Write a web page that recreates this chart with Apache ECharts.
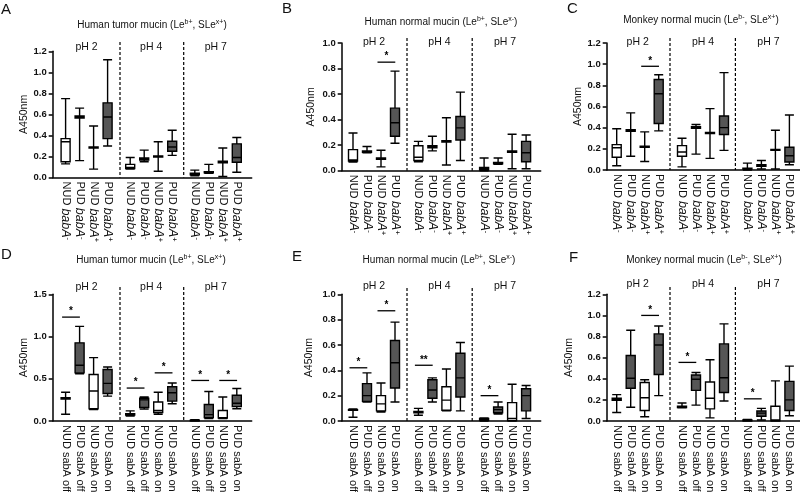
<!DOCTYPE html>
<html><head><meta charset="utf-8">
<script src="https://cdn.jsdelivr.net/npm/echarts@6/dist/echarts.min.js"></script>
<style>html,body{margin:0;padding:0;background:#fff}#c{width:800px;height:493px}</style>
</head><body><div id="c"></div>
<script>
// ---------- categories & labels ----------
const catsBab = ['NUD babA-', 'PUD babA-', 'NUD babA+', 'PUD babA+'];
const catsSab = ['NUD sabA off', 'PUD sabA off', 'NUD sabA on', 'PUD sabA on'];
const phLabels = ['pH 2', 'pH 4', 'pH 7'];
const yLabelName = 'A450nm';

// ---------- box data: [min, Q1, median, Q3, max] ----------
const A_pH2 = [[0.13,0.15,0.34,0.37,0.75],[0.16,0.565,0.575,0.585,0.66],[0.08,0.28,0.285,0.29,0.49],[0.30,0.37,0.575,0.71,1.12]];
const A_pH4 = [[0.08,0.085,0.095,0.125,0.19],[0.15,0.165,0.175,0.185,0.26],[0.06,0.195,0.2,0.205,0.34],[0.21,0.25,0.29,0.345,0.45]];
const A_pH7 = [[0.015,0.025,0.035,0.04,0.07],[0.04,0.045,0.05,0.055,0.125],[0.01,0.14,0.15,0.155,0.28],[0.05,0.145,0.19,0.32,0.38]];

const B_pH2 = [[0.068,0.075,0.085,0.165,0.295],[0.14,0.145,0.15,0.155,0.19],[0.03,0.09,0.095,0.10,0.16],[0.215,0.27,0.375,0.49,0.78]];
const B_pH4 = [[0.07,0.08,0.105,0.195,0.23],[0.155,0.18,0.19,0.195,0.27],[0.045,0.225,0.23,0.235,0.415],[0.08,0.24,0.335,0.425,0.615]];
const B_pH7 = [[0,0.005,0.015,0.025,0.10],[0.05,0.055,0.06,0.065,0.10],[0.015,0.145,0.15,0.155,0.285],[0.015,0.07,0.14,0.23,0.28]];

const C_pH2 = [[0.04,0.12,0.21,0.24,0.39],[0.13,0.365,0.375,0.38,0.54],[0.08,0.215,0.22,0.225,0.36],[0.37,0.44,0.72,0.855,0.90]];
const C_pH4 = [[0.03,0.13,0.17,0.23,0.30],[0.15,0.395,0.40,0.41,0.43],[0.11,0.345,0.35,0.355,0.58],[0.185,0.335,0.40,0.51,0.92]];
const C_pH7 = [[0,0.008,0.012,0.018,0.065],[0.01,0.035,0.045,0.05,0.09],[0.01,0.185,0.19,0.195,0.375],[0.05,0.075,0.135,0.215,0.52]];

const D_pH2 = [[0.08,0.26,0.265,0.275,0.34],[0.56,0.57,0.66,0.925,1.12],[0.135,0.145,0.355,0.55,0.75],[0.295,0.325,0.445,0.61,0.64]];
const D_pH4 = [[0.06,0.07,0.075,0.085,0.12],[0.14,0.16,0.25,0.27,0.285],[0.08,0.10,0.125,0.225,0.34],[0.205,0.235,0.335,0.405,0.45]];
const D_pH7 = [[0,0.003,0.006,0.01,0.015],[0.03,0.04,0.075,0.195,0.35],[0.03,0.035,0.04,0.125,0.285],[0.145,0.17,0.21,0.305,0.385]];

const E_pH2 = [[0.03,0.085,0.088,0.09,0.095],[0.15,0.155,0.20,0.295,0.38],[0.07,0.08,0.135,0.20,0.30],[0.15,0.26,0.46,0.635,0.78]];
const E_pH4 = [[0.045,0.065,0.07,0.075,0.10],[0.15,0.18,0.245,0.325,0.34],[0.08,0.085,0.165,0.27,0.41],[0.08,0.19,0.34,0.535,0.62]];
const E_pH7 = [[0,0.005,0.015,0.02,0.025],[0.055,0.065,0.09,0.11,0.15],[0,0.003,0.02,0.145,0.29],[0.02,0.08,0.20,0.255,0.28]];

const F_pH2 = [[0.08,0.195,0.205,0.215,0.25],[0.13,0.31,0.405,0.62,0.86],[0.04,0.10,0.22,0.365,0.39],[0.24,0.44,0.72,0.825,0.90]];
const F_pH4 = [[0.125,0.128,0.133,0.14,0.17],[0.15,0.29,0.395,0.435,0.46],[0.03,0.115,0.215,0.37,0.58],[0.19,0.27,0.41,0.73,0.92]];
const F_pH7 = [[0,0.003,0.006,0.01,0.015],[0.01,0.045,0.075,0.095,0.12],[0,0.003,0.01,0.14,0.38],[0.05,0.10,0.20,0.375,0.52]];

// ---------- significance: [group, fromCat, toCat, y, label] ----------
const sigA = [];
const sigB = [[0,2,3,0.85,'*']];
const sigC = [[0,2,3,0.98,'*']];
const sigD = [[0,0,1,1.23,'*'],[1,0,1,0.39,'*'],[1,2,3,0.57,'*'],[2,0,1,0.48,'*'],[2,2,3,0.48,'*']];
const sigE = [[0,0,1,0.42,'*'],[0,2,3,0.87,'*'],[1,0,1,0.44,'**'],[2,0,1,0.20,'*']];
const sigF = [[0,2,3,1.00,'*'],[1,0,1,0.555,'*'],[2,0,1,0.21,'*']];

// ---------- titles ----------
const titleTumor  = '{t|Human tumor mucin (Le}{s|b+}{t|, SLe}{s|x+}{t|)}';
const titleNormal = '{t|Human normal mucin (Le}{s|b+}{t|, SLe}{s|x-}{t|)}';
const titleMonkey = '{t|Monkey normal mucin (Le}{s|b-}{t|, SLe}{s|x+}{t|)}';

// ---------- layout (positions only) ----------
const FONT = 'Liberation Sans, Arial, Helvetica, sans-serif';
const INK = '#111';
const DARK = '#565656';
const BW = 14;          // category band width (px)
const AXW = 199;        // x-axis length (px)
const colCenters = [[33.9,98.5,163.1],[32.3,97.7,163.4],[31,96.3,161.7]];
const colDash = [[67.3,131],[65.3,130.5],[63.3,128.7]];

const panels = [
  {letter:'A', lx:1, ly:2,   title:titleTumor,  tx:152, ty:25,  x0:52.7,  top:51.3,  h:126.2, ymax:1.2, step:0.2, col:0, phY:48,  dashTop:42,  nameGap:20, cats:catsBab, groups:[A_pH2,A_pH4,A_pH7], sig:sigA},
  {letter:'B', lx:282, ly:1, title:titleNormal, tx:441, ty:22,  x0:341.7, top:43,    h:127.7, ymax:1.0, step:0.2, col:1, phY:43,  dashTop:38,  nameGap:25, cats:catsBab, groups:[B_pH2,B_pH4,B_pH7], sig:sigB},
  {letter:'C', lx:567, ly:1, title:titleMonkey, tx:701, ty:20,  x0:606.7, top:43,    h:127,   ymax:1.2, step:0.2, col:2, phY:43,  dashTop:38,  nameGap:15, cats:catsBab, groups:[C_pH2,C_pH4,C_pH7], sig:sigC},
  {letter:'D', lx:1, ly:247, title:titleTumor,  tx:151, ty:260, x0:52.7,  top:294.3, h:126.7, ymax:1.5, step:0.5, col:0, phY:288, dashTop:287, nameGap:20, cats:catsSab, groups:[D_pH2,D_pH4,D_pH7], sig:sigD},
  {letter:'E', lx:292, ly:249, title:titleNormal, tx:439, ty:260, x0:341.7, top:294.3, h:126.7, ymax:1.0, step:0.2, col:1, phY:287, dashTop:288, nameGap:27, cats:catsSab, groups:[E_pH2,E_pH4,E_pH7], sig:sigE},
  {letter:'F', lx:569, ly:250, title:titleMonkey, tx:704, ty:260, x0:606.7, top:294.3, h:126.7, ymax:1.2, step:0.2, col:2, phY:285, dashTop:287, nameGap:32, cats:catsSab, groups:[F_pH2,F_pH4,F_pH7], sig:sigF}
];

function catFormatter(v) {
  const m = /^(\w+) (babA)([+-])$/.exec(v);
  if (m) return '{t|' + m[1] + ' }{i|' + m[2] + '}{s|' + m[3] + '}';
  return '{u|' + v + '}';
}

const grid = [], xAxis = [], yAxis = [], series = [], title = [], graphic = [];
const axisLineStyle = {color:'#000', width:1.5};

panels.forEach(p => {
  title.push({text:p.letter, left:p.lx, top:p.ly, padding:0,
    textStyle:{fontSize:15, fontWeight:'normal', color:INK, fontFamily:FONT}});
  title.push({text:p.title, left:p.tx, top:p.ty - 6.5, padding:0, textAlign:'center',
    textStyle:{fontSize:10, fontWeight:'normal', color:INK, fontFamily:FONT,
      rich:{t:{fontSize:10, lineHeight:13, color:INK, fontFamily:FONT},
            s:{fontSize:7, lineHeight:7, verticalAlign:'top', color:INK, fontFamily:FONT}}}});

  const fg = grid.length;
  grid.push({left:p.x0, top:p.top, width:AXW, height:p.h, containLabel:false, outerBoundsMode:'none'});
  xAxis.push({gridIndex:fg, type:'value', min:0, max:1, axisLine:{show:true, lineStyle:axisLineStyle},
    axisTick:{show:false}, axisLabel:{show:false}, splitLine:{show:false}});
  yAxis.push({gridIndex:fg, type:'value', min:0, max:p.ymax, interval:p.step,
    axisLine:{show:true, lineStyle:axisLineStyle},
    axisTick:{show:true, length:4, lineStyle:axisLineStyle},
    axisLabel:{fontSize:9.5, fontWeight:'bold', color:INK, margin:6, fontFamily:FONT, formatter:v => v.toFixed(1)},
    splitLine:{show:false},
    name:yLabelName, nameLocation:'middle', nameGap:p.nameGap,
    nameTextStyle:{fontSize:10.5, color:INK, fontFamily:FONT}});

  colDash[p.col].forEach(dx => {
    graphic.push({type:'line', silent:true,
      shape:{x1:p.x0 + dx, y1:p.dashTop, x2:p.x0 + dx, y2:p.top + p.h},
      style:{stroke:'#000', lineWidth:1.2, lineDash:[3,2]}});
  });

  p.groups.forEach((gdata, g) => {
    const cx = p.x0 + colCenters[p.col][g];
    title.push({text:phLabels[g], left:cx, top:p.phY - 6, padding:0, textAlign:'center',
      textStyle:{fontSize:10.5, fontWeight:'normal', color:INK, fontFamily:FONT}});

    const gi = grid.length;
    grid.push({left:cx - 2*BW, top:p.top, width:4*BW, height:p.h, containLabel:false, outerBoundsMode:'none'});
    xAxis.push({gridIndex:gi, type:'category', data:p.cats, boundaryGap:true,
      axisLine:{show:false}, axisTick:{show:false}, splitLine:{show:false},
      axisLabel:{interval:0, rotate:-90, margin:4, color:INK, fontFamily:FONT, fontSize:11,
        formatter:catFormatter,
        rich:{t:{fontSize:11, lineHeight:13, color:INK, fontFamily:FONT},
              i:{fontSize:12.5, lineHeight:13, fontStyle:'italic', color:INK, fontFamily:FONT},
              s:{fontSize:8, lineHeight:7, verticalAlign:'top', color:INK, fontFamily:FONT},
              u:{fontSize:11, lineHeight:13, color:INK, fontFamily:FONT}}}});
    yAxis.push({gridIndex:gi, type:'value', min:0, max:p.ymax, show:false, splitLine:{show:false}});

    series.push({type:'boxplot', xAxisIndex:gi, yAxisIndex:gi, boxWidth:[9,9], silent:true,
      itemStyle:{borderColor:'#000', borderWidth:1.4},
      data:gdata.map((v, i) => ({value:v, itemStyle:{color: (i % 2) ? DARK : '#fff', borderColor:'#000', borderWidth:1.4}}))});

    const sig = p.sig.filter(s => s[0] === g);
    if (sig.length) {
      series.push({type:'custom', xAxisIndex:gi, yAxisIndex:gi, silent:true, clip:false,
        data:sig.map(s => [s[1], s[2], s[3]]),
        renderItem:(params, api) => {
          const y = api.value(2);
          const p1 = api.coord([api.value(0), y]);
          const p2 = api.coord([api.value(1), y]);
          const bw = api.size([1, 0])[0];
          const xa = p1[0] - 0.25 * bw, xb = p2[0] + 0.02 * bw;
          return {type:'group', children:[
            {type:'line', shape:{x1:xa, y1:p1[1], x2:xb, y2:p1[1]}, style:{stroke:'#000', lineWidth:1.3}},
            {type:'text', style:{x:(xa + xb) / 2, y:p1[1] - 0.5, text:sig[params.dataIndex][4],
              textAlign:'center', textVerticalAlign:'bottom', font:'bold 10px ' + FONT, fill:'#000'}}
          ]};
        }});
    }
  });
});

const chart = echarts.init(document.getElementById('c'), null, {renderer:'canvas'});
chart.setOption({
  animation:false,
  backgroundColor:'#fff',
  textStyle:{fontFamily:FONT},
  title, grid, xAxis, yAxis, series, graphic
});
</script>
</body></html>
